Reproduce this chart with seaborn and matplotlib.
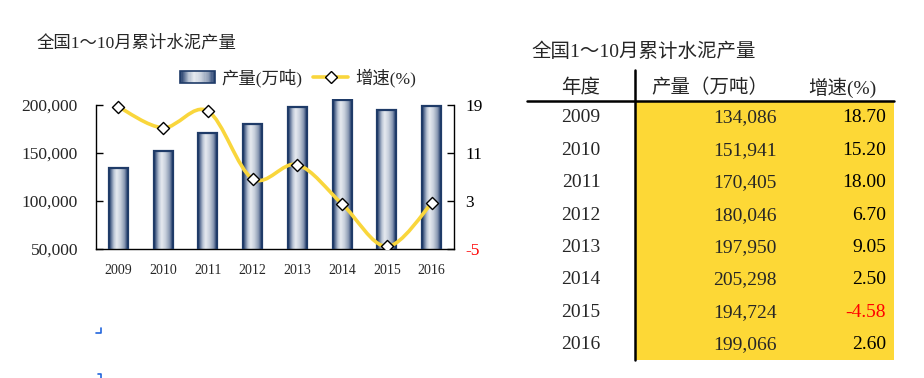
import numpy as np
import matplotlib
matplotlib.use("Agg")
import matplotlib.pyplot as plt
import seaborn as sns
from matplotlib.colors import LinearSegmentedColormap
from matplotlib.path import Path
from matplotlib.patches import PathPatch, Rectangle
from matplotlib.lines import Line2D
from matplotlib.legend_handler import HandlerBase
from matplotlib.ticker import FuncFormatter

# data
title = "全国1～10月累计水泥产量"
years = ["2009", "2010", "2011", "2012", "2013", "2014", "2015", "2016"]
output = [134086, 151941, 170405, 180046, 197950, 205298, 194724, 199066]
growth = [18.70, 15.20, 18.00, 6.70, 9.05, 2.50, -4.58, 2.60]
left_ticks = [50000, 100000, 150000, 200000]
right_ticks = [-5, 3, 11, 19]
table_header = ["年度", "产量（万吨）", "增速(%)"]

YELLOW = "#F9D63C"
EDGE = "#1F3B68"
BAR_CMAP = LinearSegmentedColormap.from_list(
    "cyl", [(0, "#1f3b68"), (0.1, "#5a6f93"), (0.25, "#b8c3d3"), (0.4, "#e6eaf0"),
            (0.6, "#c9d1dd"), (0.82, "#8c9bb4"), (0.92, "#4d638a"), (1, "#1f3b68")])

sns.set_theme(style="white")
plt.rcParams["font.family"] = ["Liberation Serif", "Noto Sans CJK SC"]
plt.rcParams["axes.unicode_minus"] = False

fig = plt.figure(figsize=(9.24, 3.78), dpi=100)

# left chart: pixel geometry of the axes
W, H = 924, 378
y_lo, y_hi = 50000, 200000
y_top = 206500
px_per = 144 / (y_hi - y_lo)
ax_h = (y_top - y_lo) * px_per
ax = fig.add_axes([96 / W, (H - 249) / H, 358 / W, ax_h / H])

sns.barplot(x=years, y=output, ax=ax, width=0.42, color="white", saturation=1)
ax.set_ylim(y_lo, y_top)
ax.set_xlim(-0.5, len(years) - 0.5)

grad = np.linspace(0, 1, 64).reshape(1, -1)
for p in ax.patches:
    x0, w, h = p.get_x(), p.get_width(), p.get_height()
    p.set_facecolor("none")
    p.set_edgecolor(EDGE)
    p.set_linewidth(1.6)
    p.set_zorder(3)
    im = ax.imshow(grad, cmap=BAR_CMAP, extent=[x0, x0 + w, y_lo, h],
                   aspect="auto", zorder=2, interpolation="bilinear")
    im.set_clip_path(p)
ax.set_ylim(y_lo, y_top)
ax.set_xlim(-0.5, len(years) - 0.5)

ax.set_xlabel("")
ax.set_ylabel("")
ax.set_yticks(left_ticks)
ax.yaxis.set_major_formatter(FuncFormatter(lambda v, _: f"{int(v):,}"))
ax.set_xticks(range(len(years)))
ax.set_xticklabels(years)
ax.set_xticks(np.arange(-0.5, len(years)), minor=True)
ax.tick_params(axis="x", which="major", length=0, pad=11, labelsize=10)
ax.tick_params(axis="x", which="minor", direction="in", length=4, width=1, color="black")
ax.tick_params(axis="y", direction="in", length=5, width=1, color="black",
               pad=13, labelsize=12.5, left=True)
for s in ["left", "bottom", "right"]:
    ax.spines[s].set_color("black")
    ax.spines[s].set_linewidth(1)
ax.spines["top"].set_visible(False)
ax.spines["left"].set_bounds(y_lo, y_hi)
ax.spines["right"].set_bounds(y_lo, y_hi)

# growth axis aligned with left axis
ax2 = ax.twinx()
r_lo, r_hi = right_ticks[0], right_ticks[-1]
r_top = r_lo + (y_top - y_lo) / (y_hi - y_lo) * (r_hi - r_lo)
ax2.set_ylim(r_lo, r_top)
ax2.set_yticks(right_ticks)
ax2.tick_params(axis="y", direction="in", length=5, width=1, color="black",
                pad=8, labelsize=12.5, right=True)
for lab, v in zip(ax2.get_yticklabels(), right_ticks):
    lab.set_color("red" if v < 0 else "black")
for s in ax2.spines.values():
    s.set_visible(False)
ax2.grid(False)
ax.grid(False)

# smoothed line (bezier through the points)
xs = np.arange(len(growth), dtype=float)
ys = np.array(growth, dtype=float)
pts = np.column_stack([xs, ys])
verts = [pts[0]]
codes = [Path.MOVETO]
for i in range(len(pts) - 1):
    p0 = pts[i - 1] if i > 0 else pts[i]
    p3 = pts[i + 2] if i + 2 < len(pts) else pts[i + 1]
    c1 = pts[i] + (pts[i + 1] - p0) / 6
    c2 = pts[i + 1] - (p3 - pts[i]) / 6
    verts += [c1, c2, pts[i + 1]]
    codes += [Path.CURVE4] * 3
ax2.add_patch(PathPatch(Path(verts, codes), facecolor="none", edgecolor=YELLOW,
                        lw=2.6, zorder=4, capstyle="round"))
sns.scatterplot(x=xs, y=ys, ax=ax2, marker="D", s=38, color="white",
                edgecolor="black", linewidth=1, zorder=5)
ax2.set_xlim(-0.5, len(years) - 0.5)


class CylinderHandler(HandlerBase):
    def create_artists(self, legend, orig_handle, xdescent, ydescent,
                       width, height, fontsize, trans):
        n = 30
        arts = [Rectangle((-xdescent + width * i / n, -ydescent), width / n, height,
                          facecolor=BAR_CMAP((i + 0.5) / n), edgecolor="none",
                          transform=trans) for i in range(n)]
        arts.append(Rectangle((-xdescent, -ydescent), width, height, facecolor="none",
                              edgecolor=EDGE, lw=1.2, transform=trans))
        return arts


bar_proxy = Rectangle((0, 0), 1, 1)
line_proxy = Line2D([], [], color=YELLOW, lw=2.6, marker="D", markersize=6,
                    markerfacecolor="white", markeredgecolor="black")
fig.legend([bar_proxy, line_proxy], ["产量(万吨)", "增速(%)"],
           handler_map={bar_proxy: CylinderHandler()},
           loc="center", bbox_to_anchor=(298 / W, (H - 78) / H), ncol=2,
           frameon=False, fontsize=12.5, handlelength=2.0, handleheight=0.7,
           columnspacing=0.6, handletextpad=0.4)

fig.text(37 / W, (H - 43) / H, title, fontsize=12.5, ha="left", va="center")

# table on the right, drawn in pixel space
ov = fig.add_axes([0, 0, 1, 1], zorder=-1)
ov.set_xlim(0, W)
ov.set_ylim(H, 0)
ov.axis("off")

row0, step = 118, 32.4
ov.add_patch(Rectangle((635, 101), 894 - 635, 360 - 101, facecolor="#FDD836",
                       edgecolor="none", zorder=1))
ov.plot([635, 635], [70, 360], color="black", lw=1.8, zorder=2)
ov.plot([527, 894], [101, 101], color="black", lw=1.8, zorder=2)
ov.text(531, 52, title, fontsize=14, ha="left", va="center")
ov.text(581, 88, table_header[0], fontsize=14, ha="center", va="center")
ov.text(710, 88, table_header[1], fontsize=14, ha="center", va="center")
ov.text(842, 88, table_header[2], fontsize=14, ha="center", va="center")
for i, (yr, v, g) in enumerate(zip(years, output, growth)):
    y = row0 + i * step
    ov.text(581, y, yr, fontsize=14, ha="center", va="center")
    ov.text(777, y, f"{v:,}", fontsize=14, ha="right", va="center")
    ov.text(886, y, f"{g:.2f}", fontsize=14, ha="right", va="center",
            color="red" if g < 0 else "black")

# small blue marks below the chart
ov.plot([96, 101, 101], [333, 333, 328], color="#2266dd", lw=1.2)
ov.plot([98, 101, 101], [374, 374, 378], color="#2266dd", lw=1.2)

fig.savefig("out.png", dpi=100)
